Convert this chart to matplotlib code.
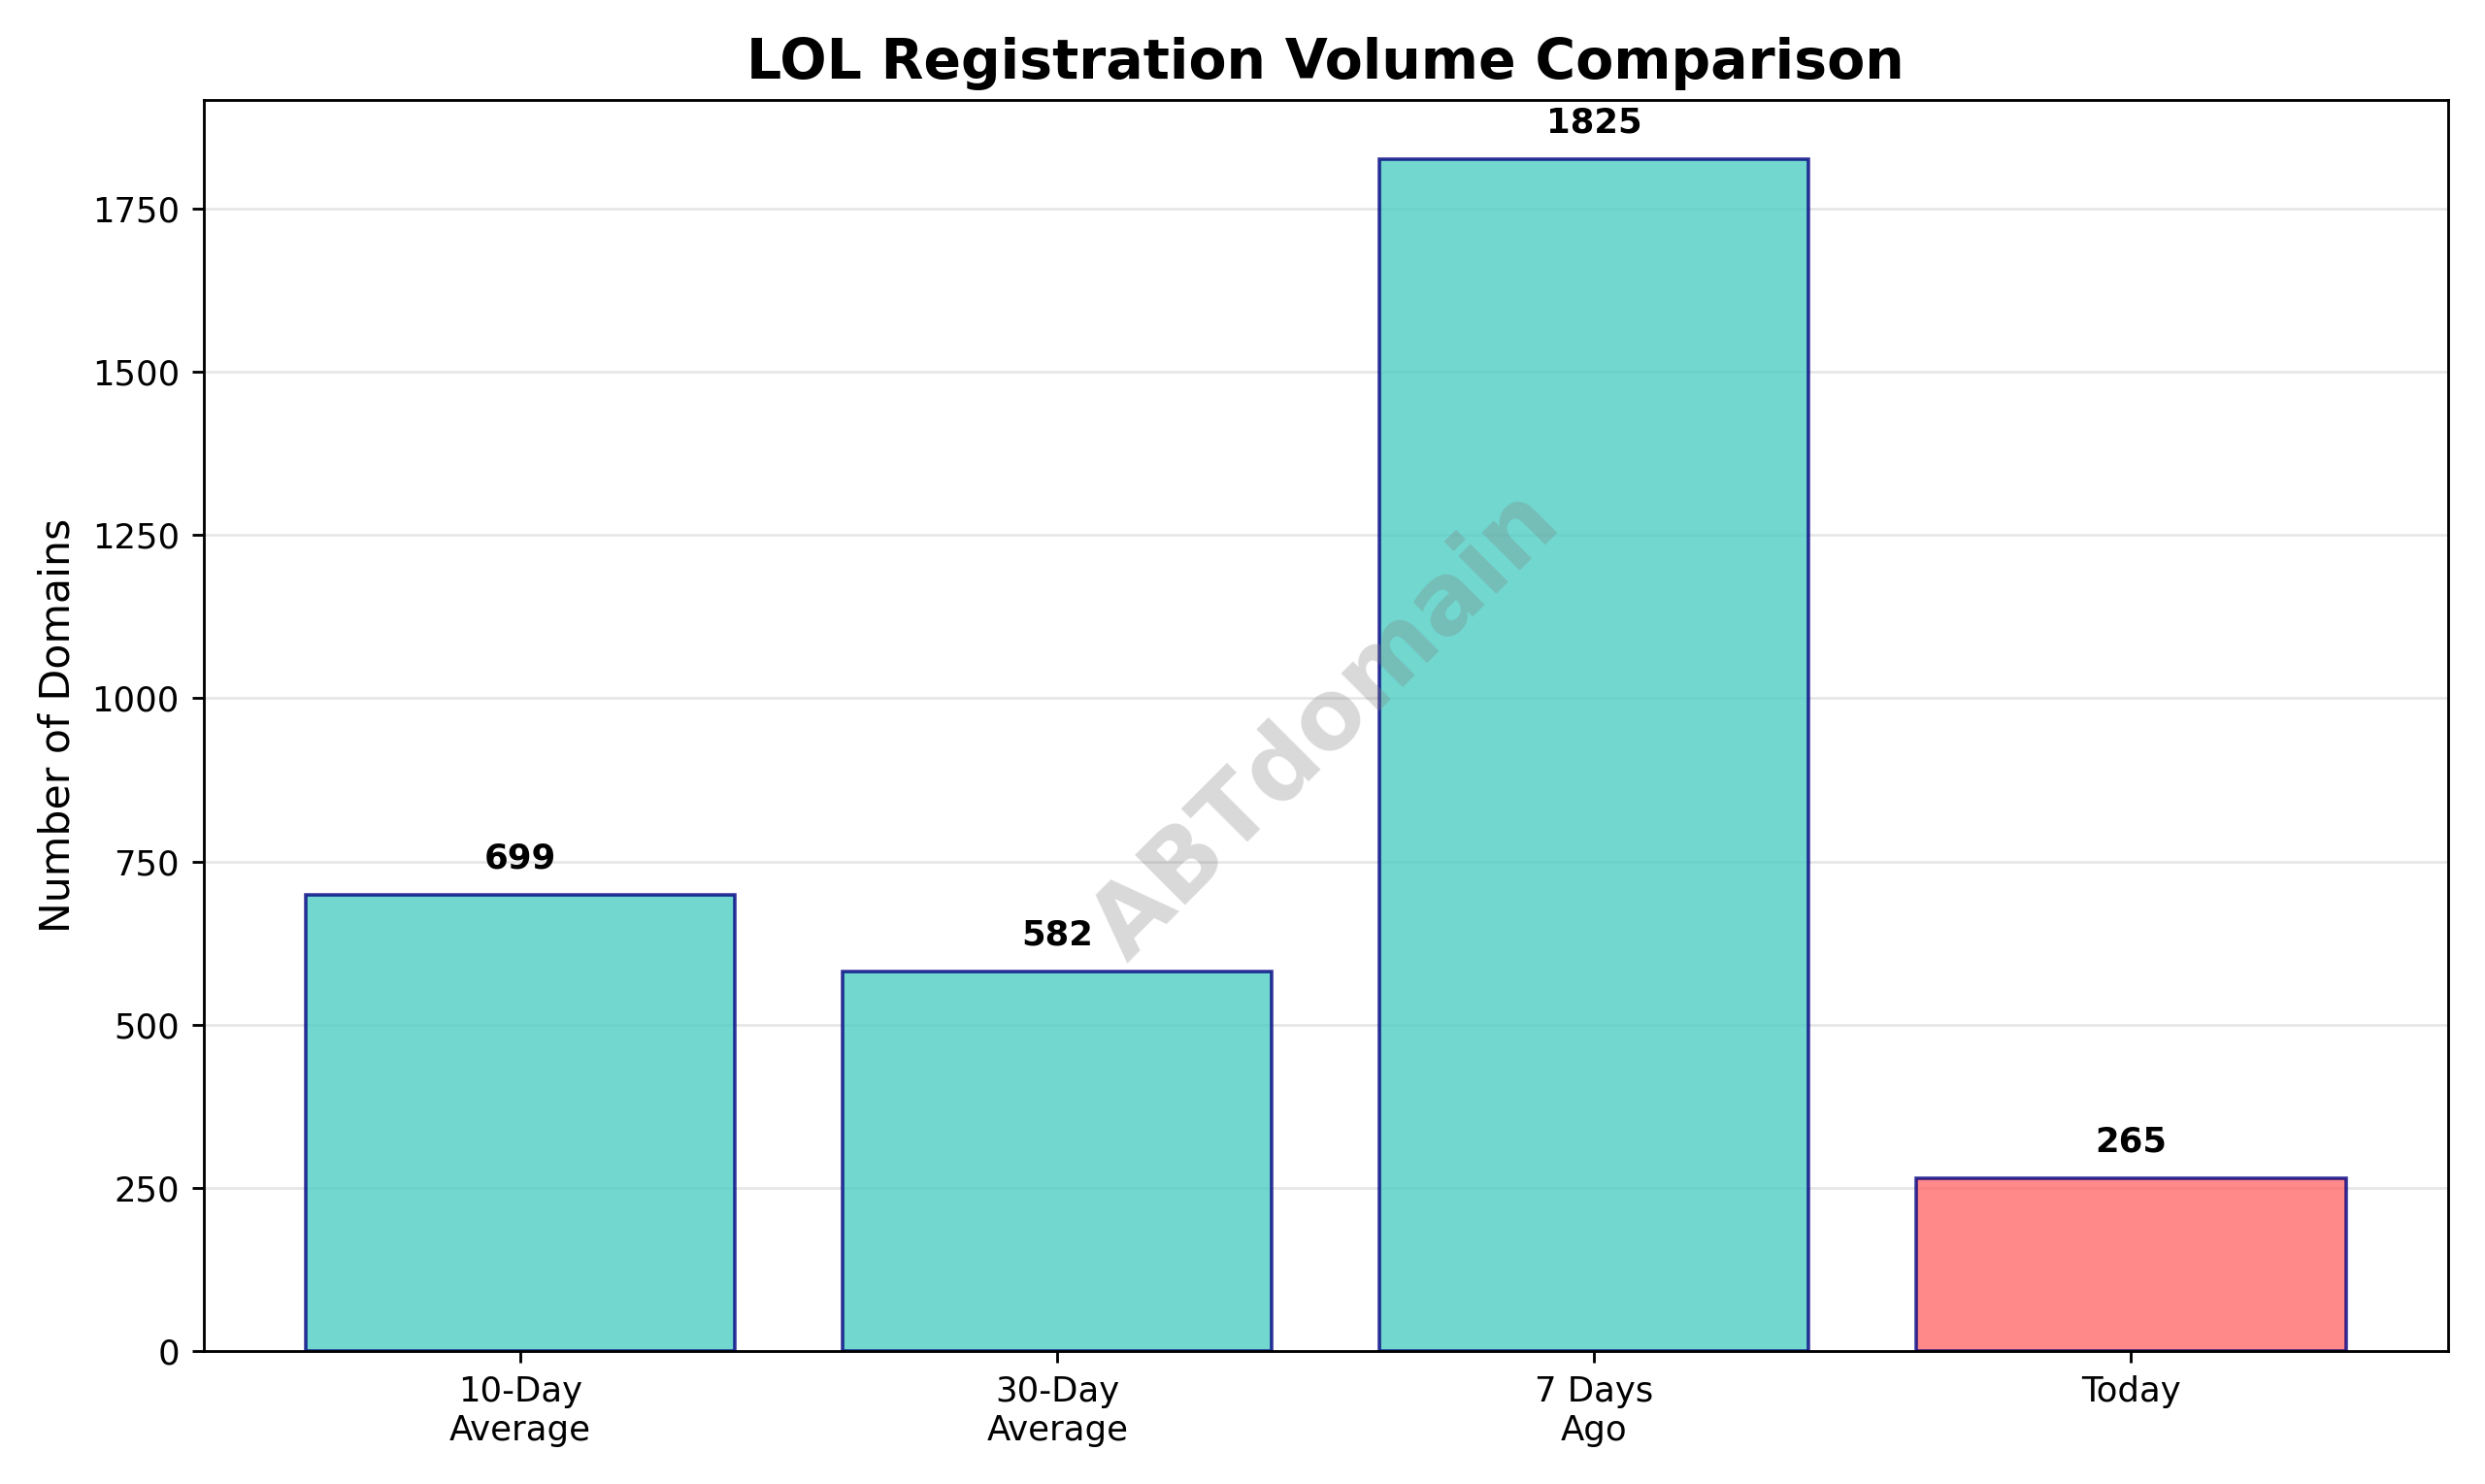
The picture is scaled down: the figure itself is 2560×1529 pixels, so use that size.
import matplotlib
matplotlib.use("Agg")
import matplotlib.pyplot as plt

categories = ["10-Day\nAverage", "30-Day\nAverage", "7 Days\nAgo", "Today"]
values = [699, 582, 1825, 265]
colors = ["#4ECDC4", "#4ECDC4", "#4ECDC4", "#FF6B6B"]

fig, ax = plt.subplots(figsize=(10, 5.973), dpi=256)
bars = ax.bar(categories, values, color=colors, alpha=0.8, edgecolor="navy", linewidth=1)
for b, v in zip(bars, values):
    ax.text(b.get_x() + b.get_width() / 2, v + 30, str(v), ha="center", va="bottom",
            fontweight="bold", fontsize=10)
ax.set_title("LOL Registration Volume Comparison", fontsize=16, fontweight="bold")
ax.set_ylabel("Number of Domains", fontsize=12)
ax.yaxis.grid(True, alpha=0.3)
ax.set_axisbelow(True)
ax.text(0.5, 0.5, "ABTdomain", transform=ax.transAxes, fontsize=28, color="gray",
        alpha=0.3, fontweight="bold", rotation=45, ha="center", va="center")
fig.tight_layout()
fig.savefig("out.png")
